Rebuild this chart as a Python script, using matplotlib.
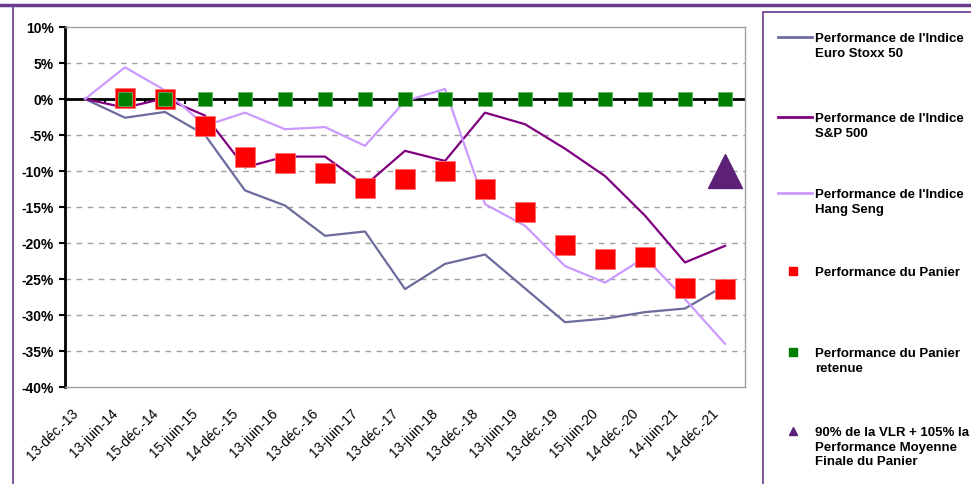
import numpy as np
import matplotlib
matplotlib.use("Agg")
import matplotlib.pyplot as plt
import matplotlib.transforms as mtrans
from matplotlib.lines import Line2D
from matplotlib.patches import Rectangle

plt.rcParams['font.family'] = ['Liberation Sans', 'DejaVu Sans']

dates = ["13-déc.-13", "13-juin-14", "15-déc.-14", "15-juin-15", "14-déc.-15",
         "13-juin-16", "13-déc.-16", "13-juin-17", "13-déc.-17", "13-juin-18",
         "13-déc.-18", "13-juin-19", "13-déc.-19", "15-juin-20", "14-déc.-20",
         "14-juin-21", "14-déc.-21"]

nan = np.nan
eurostoxx = [0.0, -2.6, -1.8, -5.0, -12.7, -14.8, -19.0, -18.4, -26.4, -22.9,
             -21.6, -26.3, -31.0, -30.5, -29.6, -29.1, -25.9]
sp500 = [0.0, -1.2, 0.1, -2.3, -9.5, -8.0, -8.0, -12.0, -7.2, -8.6,
         -1.9, -3.5, -6.9, -10.7, -16.2, -22.7, -20.4]
hangseng = [0.0, 4.4, 1.2, -3.7, -1.9, -4.2, -3.9, -6.5, -0.3, 1.4,
            -14.6, -17.6, -23.2, -25.5, -22.0, -27.8, -34.0]
panier = [nan, 0.2, 0.0, -3.8, -8.0, -8.9, -10.3, -12.3, -11.1, -10.0,
          -12.5, -15.7, -20.3, -22.2, -22.0, -26.3, -26.4]
panier_retenue = [nan, 0.0, 0.0, 0.0, 0.0, 0.0, 0.0, 0.0, 0.0, 0.0,
                  0.0, 0.0, 0.0, 0.0, 0.0, 0.0, 0.0]
vlr_finale = [nan] * 16 + [-10.0]

labels = ["Performance de l'Indice\nEuro Stoxx 50",
          "Performance de l'Indice\nS&P 500",
          "Performance de l'Indice\nHang Seng",
          "Performance du Panier",
          "Performance du Panier\nretenue",
          "90% de la VLR + 105% la\nPerformance Moyenne\nFinale du Panier"]

c_euro = '#6b6b9e'
c_sp = '#800080'
c_hs = '#cc99ff'
c_red = '#ff0000'
c_green = '#008000'
c_tri = '#5c2078'
c_frame = '#6a3a8e'

W, H = 971, 485
fig = plt.figure(figsize=(W / 100, H / 100), dpi=100)
ax = fig.add_axes([65 / W, 1 - 388 / H, (745 - 65) / W, (388 - 28) / H])

x = np.arange(len(dates))
ax.plot(x, eurostoxx, color=c_euro, lw=1.6, zorder=3)
ax.plot(x, sp500, color=c_sp, lw=1.6, zorder=3)
ax.plot(x, hangseng, color=c_hs, lw=1.6, zorder=3)
ax.plot(x, panier, ls='none', marker='s', ms=14.5, color=c_red,
        mec='#ff7070', mew=0.6, zorder=4)
ax.plot(x, panier_retenue, ls='none', marker='s', ms=9.5, color=c_green,
        mec='#66b366', mew=0.6, zorder=5)
ax.plot(x, vlr_finale, ls='none', marker='^', ms=24, color=c_tri, zorder=6)

ax.set_xlim(-0.5, len(dates) - 0.5)
ax.set_ylim(-40, 10)

yt = np.arange(-40, 11, 5)
ax.set_yticks(yt)
ax.set_yticklabels([f"{v}%" for v in yt], fontsize=10, fontweight='bold')
for v in yt[1:-1]:
    if v != 0:
        ax.axhline(v, color='#a0a0a0', lw=1, ls=(0, (4, 4)), zorder=1)

# zero axis with category tick marks
ax.axhline(0, color='black', lw=2, zorder=2)
ax.vlines(x[:-1] + 0.5, -0.7, 0, color='black', lw=1.5, zorder=2)

ax.set_xticks(x)
ax.set_xticklabels(dates, rotation=45, ha='right', va='center',
                   rotation_mode='anchor', fontsize=10)
ax.tick_params(axis='x', length=0, pad=17)
ax.tick_params(axis='y', length=4, width=1.5, color='black', pad=4)
shift = mtrans.ScaledTranslation(-0.09, 0, fig.dpi_scale_trans)
for t in ax.get_xticklabels():
    t.set_transform(t.get_transform() + shift)

for s in ['top', 'right', 'bottom']:
    ax.spines[s].set_color('#a0a0a0')
    ax.spines[s].set_linewidth(1)
ax.spines['left'].set_color('black')
ax.spines['left'].set_linewidth(2)

# frame lines
fig.add_artist(Line2D([0, 1], [1 - 6 / H, 1 - 6 / H], color=c_frame, lw=2.5,
                      transform=fig.transFigure))
fig.add_artist(Line2D([13 / W, 13 / W], [0, 1 - 8 / H], color=c_frame, lw=1.2,
                      transform=fig.transFigure))
fig.add_artist(Rectangle((763 / W, -0.1), 0.5, 1.1 - 13 / H, fill=False,
                         ec=c_frame, lw=1.2, transform=fig.transFigure))

# legend
entry_y = [38, 118, 194, 272, 353, 432]
handles = [('line', c_euro), ('line', c_sp), ('line', c_hs),
           ('s', c_red), ('s', c_green), ('^', c_tri)]
for (kind, col), lab, py in zip(handles, labels, entry_y):
    yf = 1 - py / H
    if kind == 'line':
        fig.add_artist(Line2D([778 / W, 812 / W], [yf, yf], color=col, lw=2,
                              transform=fig.transFigure))
    else:
        fig.add_artist(Line2D([793 / W], [yf], marker=kind, ms=5.5, color=col,
                              ls='none', transform=fig.transFigure))
    fig.text(815 / W, 1 - (py - 5) / H, lab, fontsize=9.5, fontweight='bold',
             va='top', ha='left', linespacing=1.3)

fig.savefig("out.png", dpi=100)
